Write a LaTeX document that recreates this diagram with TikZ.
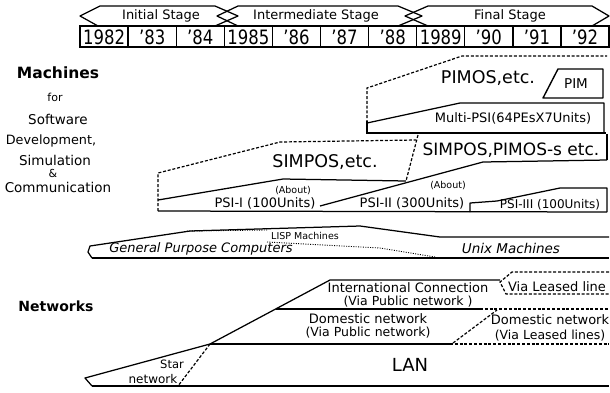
\documentclass[tikz,border=0pt]{standalone}
\usepackage{fontspec}
\setmainfont{DejaVu Sans}
\begin{document}
\begin{tikzpicture}[x=1pt,y=-1pt,
  ln/.style={line width=1.25pt, line join=round},
  dsh/.style={line width=1.2pt, dash pattern=on 3pt off 1.8pt},
  dotl/.style={line width=0.9pt, dash pattern=on 1pt off 1.4pt},
  txt/.style={inner sep=0pt, font=\fontsize{13}{15}\selectfont},
  sml/.style={inner sep=0pt, font=\fontsize{9.5}{11}\selectfont},
  big/.style={inner sep=0pt, font=\fontsize{17.5}{20}\selectfont},
  lab/.style={inner sep=0pt, font=\fontsize{13.5}{15}\selectfont},
  yr/.style={inner sep=0pt, font=\fontsize{16.5}{19}\selectfont},
]
\useasboundingbox (0,0) rectangle (610,392);

% ---------- header: stages ----------
\draw[ln] (80,16) -- (100,6) -- (215,6) -- (238,16) -- (215,26) -- (98,26) -- cycle;
\draw[ln] (217,16) -- (238,6) -- (398,6) -- (422,16) -- (398,26) -- (238,26) -- cycle;
\draw[ln] (405,16) -- (428,6) -- (592,6) -- (609,16) -- (592,26) -- (428,26) -- cycle;
\node[txt] (st1) at (161,16) {Initial Stage};
\node[txt] (st2) at (316,16) {Intermediate Stage};
\node[txt] (st3) at (510,16) {Final Stage};

% ---------- years ----------
\draw[line width=1.3pt] (80,26) rectangle (609,47);
\foreach \i in {1,...,10} {\draw[line width=1.3pt] ({80+48.1*\i},26) -- ({80+48.1*\i},47);}
\foreach \i/\t in {0/1982,1/'83,2/'84,3/1985,4/'86,5/'87,6/'88,7/1989,8/'90,9/'91,10/'92}
  {\node[yr] (yr\i) at ({80+48.1*(\i+0.5)},37) {\scalebox{1}[1.2]{\t}};}

% ---------- left labels ----------
\node[lab, font=\fontsize{15.5}{18}\selectfont\bfseries] (m1) at (58,73) {Machines};
\node[lab, font=\fontsize{11}{13}\selectfont] (m2) at (55,97) {for};
\node[lab] (m3) at (58,119) {Software};
\node[lab, font=\fontsize{12.8}{15}\selectfont] (m4) at (51,141) {Development,};
\node[lab] (m5) at (55,160) {Simulation};
\node[lab, font=\fontsize{11}{13}\selectfont] (m6) at (53,173) {\&};
\node[lab] (m7) at (58,187) {Communication};
\node[lab, font=\fontsize{14}{17}\selectfont\bfseries] (nw) at (56,306) {Networks};

% ---------- PIMOS / PIM / Multi-PSI ----------
\draw[dsh] (367,123) -- (367,88) -- (462,56) -- (607,56);
\node[big] (pimos) at (488,78) {PIMOS,etc.};
\draw[line width=1.4pt, line join=round] (543,98) -- (558,69) -- (603,69) -- (603,98) -- cycle;
\node[txt, font=\fontsize{13.5}{15}\selectfont] (pim) at (576,84) {PIM};
\draw[ln] (367,123) -- (460,103) -- (604,103) -- (604,133);
\draw[line width=1.4pt] (367,121) -- (367,134);
\draw[line width=2.2pt] (367,133) -- (606,133);
\node[txt] (mpsi) at (513,118) {Multi-PSI(64PEsX7Units)};

% ---------- SIMPOS regions ----------
\draw[dsh] (418,135) -- (406,181);
\draw[ln] (607,134) -- (607,160);
\node[big, font=\fontsize{17}{20}\selectfont] (simpim) at (511,150) {SIMPOS,PIMOS-s etc.};
\draw[dsh] (158,211) -- (158,173) -- (280,142) -- (416,140);
\node[big] (simpos) at (325,162) {SIMPOS,etc.};

% ---------- PSI machines ----------
\draw[ln] (158,200) -- (283,179) -- (406,181);
\draw[ln] (320,206) -- (483,162) -- (607,160);
\draw[ln] (470,212) -- (470,203) -- (497,201) -- (560,188) -- (607,188) -- (607,212);
\draw[ln] (158,211) -- (607,212);
\node[sml] (ab1) at (293,191) {(About)};
\node[txt] (psi1) at (265,203) {PSI-I (100Units)};
\node[sml] (ab2) at (448,186) {(About)};
\node[txt] (psi2) at (412,203) {PSI-II (300Units)};
\node[txt, font=\fontsize{12}{14}\selectfont] (psi3) at (550,205) {PSI-III (100Units)};

% ---------- computers ----------
\draw[ln] (92,258) -- (88,252) -- (90,246) -- (190,231) -- (360,226) -- (440,237) -- (609,237);
\draw[ln] (92,258) -- (609,258);
\draw[dotl] (187,231) -- (267,230);
\draw[dotl] (267,242) -- (380,248) -- (435,257);
\node[txt, font=\fontsize{13}{15}\selectfont\itshape] (gpc) at (201,249) {General Purpose Computers};
\node[sml] (lisp) at (305,236) {LISP Machines};
\node[txt, font=\fontsize{13.5}{15}\selectfont\itshape] (unix) at (511,248) {Unix Machines};

% ---------- networks ----------
\draw[ln] (92,386) -- (85,378) -- (210,344) -- (330,280) -- (500,280);
\draw[dsh] (210,344) -- (178,386);
\draw[ln] (92,386) -- (609,386);
\draw[ln] (210,344) -- (450,344);
\draw[dsh] (450,344) -- (609,344);
\draw[ln] (276,309) -- (480,309);
\draw[dsh] (480,309) -- (609,309);
\draw[dsh] (609,272) -- (512,272) -- (500,282) -- (506,294) -- (609,294);
\draw[dsh] (453,343) -- (497,310);
\node[txt] (ic1) at (408,288) {International Connection};
\node[txt, font=\fontsize{12.5}{14}\selectfont] (ic2) at (408,302) {(Via Public network )};
\node[txt] (dp1) at (368,319) {Domestic network};
\node[txt, font=\fontsize{12.5}{14}\selectfont] (dp2) at (368,333) {(Via Public network)};
\node[txt] (vl) at (557,287) {Via Leased line};
\node[txt] (dl1) at (550,320) {Domestic network};
\node[txt, font=\fontsize{12.5}{14}\selectfont] (dl2) at (550,336) {(Via Leased lines)};
\node[big, font=\fontsize{18}{20}\selectfont] (lan) at (410,365) {LAN};
\node[txt, font=\fontsize{11.5}{13}\selectfont] (star1) at (172,364) {Star};
\node[txt, font=\fontsize{12}{14}\selectfont] (star2) at (153,379) {network};
\end{tikzpicture}
\end{document}
